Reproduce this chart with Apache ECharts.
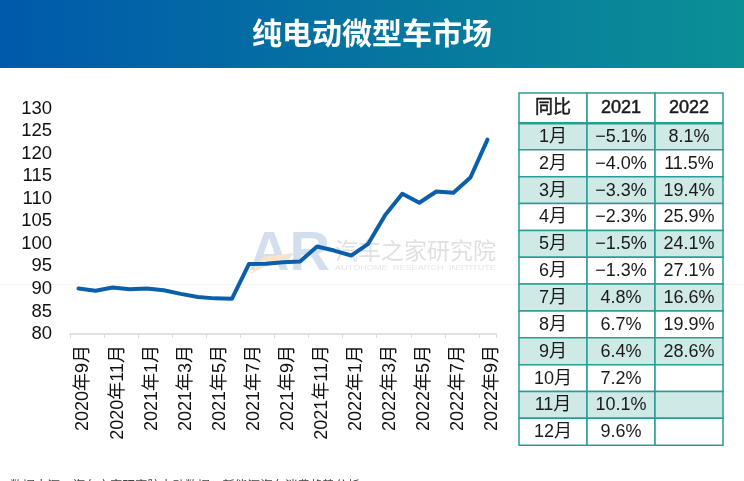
<!DOCTYPE html>
<html><head><meta charset="utf-8">
<style>html,body{margin:0;padding:0;background:#fff}#c{width:744px;height:481px}</style>
<script src="https://cdn.jsdelivr.net/npm/echarts@6/dist/echarts.min.js"></script>
</head><body><div id="c"></div>
<script>
const categories=['2020年9月','2020年10月','2020年11月','2020年12月','2021年1月','2021年2月','2021年3月','2021年4月','2021年5月','2021年6月','2021年7月','2021年8月','2021年9月','2021年10月','2021年11月','2021年12月','2022年1月','2022年2月','2022年3月','2022年4月','2022年5月','2022年6月','2022年7月','2022年8月','2022年9月'];
const values=[90.1,89.6,90.3,89.9,90.1,89.7,88.9,88.2,87.9,87.8,95.5,95.6,95.9,96.1,99.4,98.5,97.4,100,106.4,111.1,109.1,111.6,111.3,114.7,123.1];
const tableHeader=['同比','2021','2022'];
const tableMonths=['1月','2月','3月','4月','5月','6月','7月','8月','9月','10月','11月','12月'];
const yoy2021=['−5.1%','−4.0%','−3.3%','−2.3%','−1.5%','−1.3%','4.8%','6.7%','6.4%','7.2%','10.1%','9.6%'];
const yoy2022=['8.1%','11.5%','19.4%','25.9%','24.1%','27.1%','16.6%','19.9%','28.6%','','',''];
const title='纯电动微型车市场';
const FONT='"Liberation Sans","Noto Sans CJK SC",sans-serif';
const CJK='"Noto Sans CJK SC",sans-serif';
const chart=echarts.init(document.getElementById('c'),null,{renderer:'canvas'});
const g=[];
g.push({type:'rect',shape:{x:0,y:0,width:744,height:68},silent:true,style:{fill:new echarts.graphic.LinearGradient(0,0,1,0,[{offset:0,color:'#0059ab'},{offset:1,color:'#0b9096'}])}});
g.push({type:'text',x:372,y:33,silent:true,style:{text:title,font:'bold 30px '+CJK,fill:'#fff',align:'center',verticalAlign:'middle'}});
// faint separator and watermark
g.push({type:'rect',z:0,shape:{x:0,y:284,width:744,height:1},silent:true,style:{fill:'#f4f4f4'}});
g.push({type:'text',z:0,x:249,y:255,silent:true,style:{text:'AR',font:'bold 56px "Liberation Sans"',fill:'#d3dfee',verticalAlign:'middle'}});
g.push({type:'polygon',z:0,shape:{points:[[250,274],[263,257],[294,253],[287,262],[264,267]]},silent:true,style:{fill:'#f8e3d0'}});
g.push({type:'text',z:0,x:335,y:250,silent:true,style:{text:'汽车之家研究院',font:'23px '+CJK,fill:'#e0e0e0',verticalAlign:'middle'}});
g.push({type:'text',z:0,x:335,y:268,scaleX:1.22,silent:true,style:{text:'AUTOHOME  RESEARCH  INSTITUTE',font:'7.5px "Liberation Sans"',fill:'#e6e6e6',verticalAlign:'middle'}});
// table
const X0=519,CW=68,Y0=93,HH=30,RH=26.85,LC='#2a9d94';
const rows=[tableHeader].concat(tableMonths.map((m,i)=>[m,yoy2021[i],yoy2022[i]]));
rows.forEach((r,i)=>{
  const y=i===0?Y0:Y0+HH+(i-1)*RH, h=i===0?HH:RH;
  r.forEach((t,j)=>{
    const fill=(i>0&&i%2===1)?'#cfe9e6':'#fff';
    g.push({type:'rect',z:1,shape:{x:X0+j*CW,y:y,width:CW,height:h},silent:true,style:{fill:fill,stroke:LC,lineWidth:1.5}});
    if(t)g.push({type:'text',z:2,x:X0+j*CW+CW/2,y:y+h/2+0.5,silent:true,style:{text:t,font:'18px '+FONT,fill:'#1a1a1a',align:'center',verticalAlign:'middle',stroke:i===0?'#1a1a1a':null,lineWidth:i===0?0.5:0}});
  });
});
g.push({type:'rect',z:3,shape:{x:X0,y:Y0+HH-1,width:CW*3,height:2.5},silent:true,style:{fill:LC}});
g.push({type:'text',z:2,x:10,y:485,silent:true,style:{text:'数据来源：汽车之家研究院电动数据，新能源汽车消费趋势分析',font:'12.5px '+CJK,fill:'#444',verticalAlign:'middle'}});
chart.setOption({
  animation:false,
  textStyle:{fontFamily:FONT},
  grid:{left:70,top:108.5,width:426,height:225.5,containLabel:false},
  xAxis:{type:'category',data:categories,boundaryGap:true,
    axisLine:{lineStyle:{color:'#d9d9d9',width:1.5}},
    axisTick:{show:true,interval:1,length:4,lineStyle:{color:'#d9d9d9'}},
    axisLabel:{interval:1,rotate:90,margin:11,fontSize:18,color:'#111',fontFamily:FONT,verticalAlign:'top',lineHeight:10}},
  yAxis:{type:'value',min:80,max:130,interval:5,axisLine:{show:false},axisTick:{show:false},splitLine:{show:false},
    axisLabel:{fontSize:18.5,color:'#111',margin:18,fontFamily:FONT}},
  series:[{type:'line',data:values,symbol:'none',smooth:false,z:5,lineStyle:{color:'#0b5fa8',width:4,cap:'round',join:'round'}}],
  graphic:g
});
</script></body></html>
